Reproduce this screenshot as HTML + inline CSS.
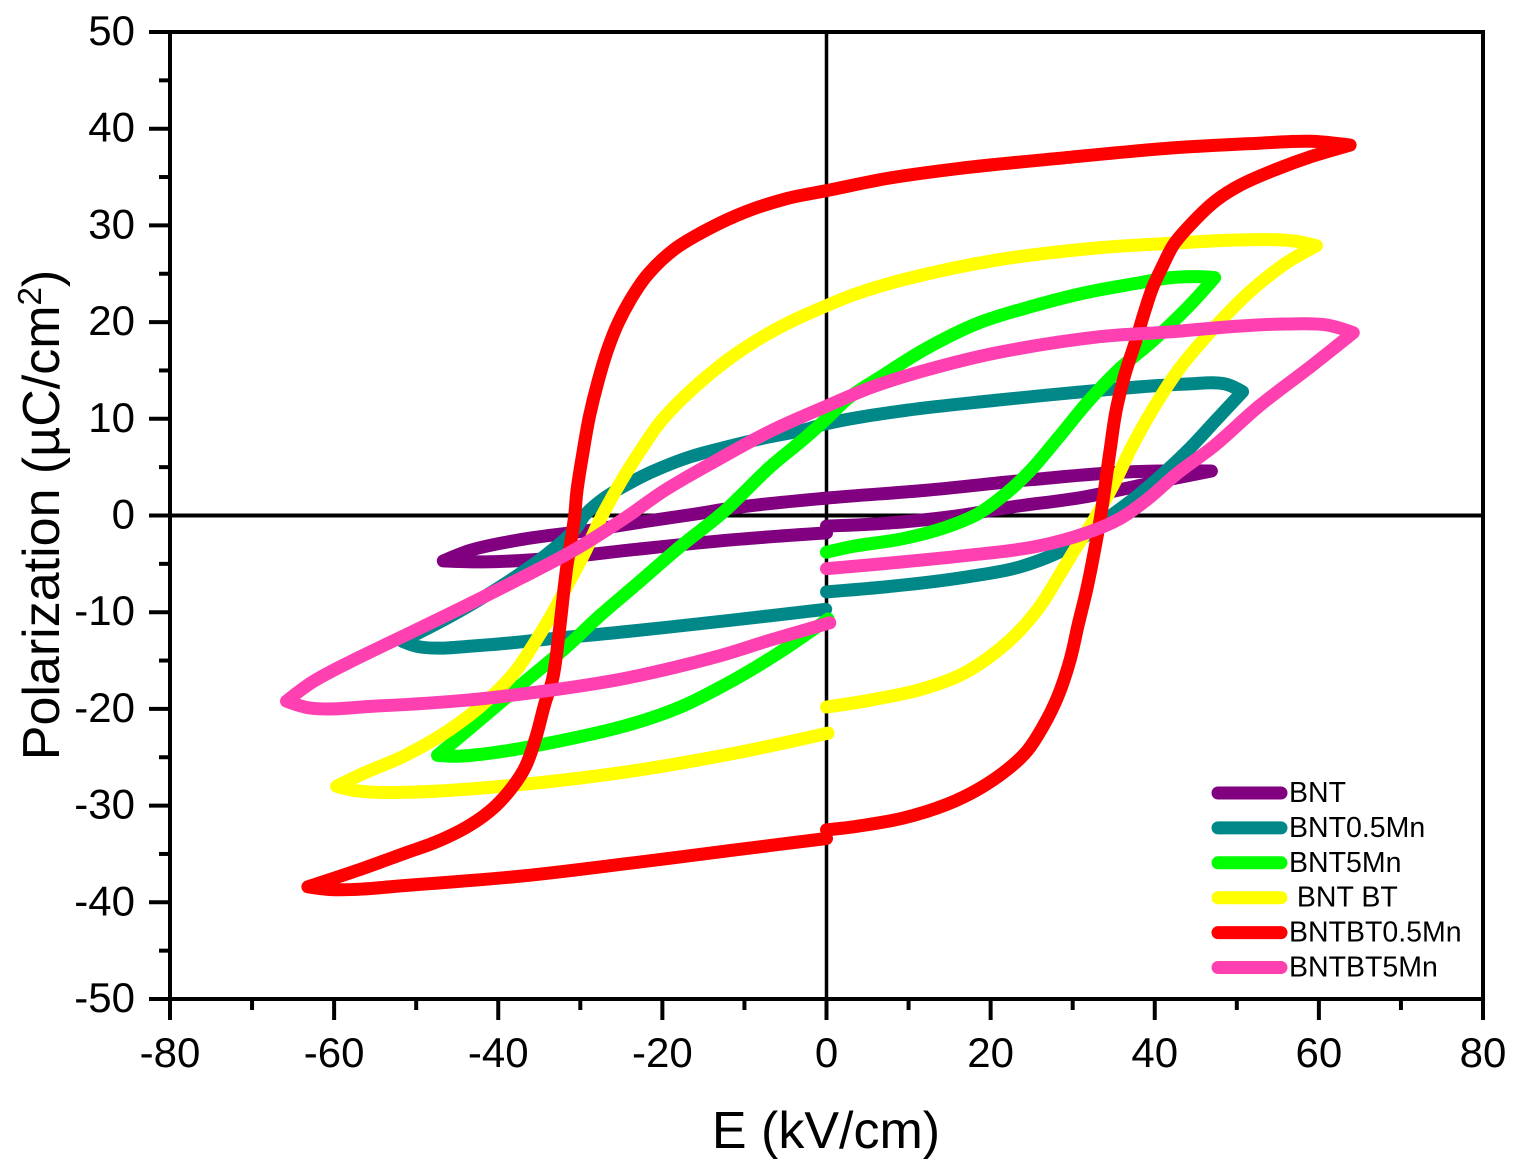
<!DOCTYPE html>
<html>
<head>
<meta charset="utf-8">
<title>Polarization hysteresis loops</title>
<style>
html,body{margin:0;padding:0;background:#fff;}
svg{display:block;}
text{font-family:"Liberation Sans",sans-serif;fill:#000;}
</style>
</head>
<body>
<svg id="chart" xmlns="http://www.w3.org/2000/svg" width="1514" height="1165" viewBox="0 0 1514 1165">
  <g id="zero-lines"></g>
  <g id="series"></g>
  <g id="axes"></g>
  <text x="826" y="1148" font-size="52" text-anchor="middle">E (kV/cm)</text>
  <text transform="translate(59,515) rotate(-90)" font-size="52" text-anchor="middle">Polarization (µC/cm<tspan font-size="33" dy="-18">2</tspan><tspan dy="18">)</tspan></text>
  <g id="legend"></g>
</svg>
<script>
const xTicks = [-80,-60,-40,-20,0,20,40,60,80];
const yTicks = [-50,-40,-30,-20,-10,0,10,20,30,40,50];
const xMinorTicks = [-70,-50,-30,-10,10,30,50,70];
const yMinorTicks = [-45,-35,-25,-15,-5,5,15,25,35,45];
const seriesNames = ["BNT","BNT0.5Mn","BNT5Mn"," BNT BT","BNTBT0.5Mn","BNTBT5Mn"];
const seriesColors = ["#800080","#008888","#00ff00","#ffff00","#ff0000","#ff40b0"];

const bntE = [0,7.3,15.4,22.7,31.3,39.8,46.9,36.4,24.9,12,0,-11.3,-15.6,-22,-28.6,-37.3,-43.4,-46.7,-41.7,-33,-24.3,-11.3,0];
const bntP = [-1.1,-0.8,-0.1,0.9,1.9,3.4,4.6,4.5,3.7,2.6,1.8,0.8,0.2,-0.6,-1.5,-2.5,-3.6,-4.7,-4.8,-4.4,-3.6,-2.5,-1.8];

const bnt05E = [0,9.3,17.5,23.6,29.7,32.3,34.7,37.7,41.1,44.1,47.5,50.7,48.6,44,39.8,31.3,20.5,9.9,0,-2.5,-7.7,-12.1,-16.5,-20.8,-23.9,-26.9,-29.5,-30.4,-33.9,-37.3,-41.7,-46,-51.7,-49.5,-41.7,-33,-24.3,-11.3,-0.1];
const bnt05P = [-7.9,-7.2,-6.3,-5.3,-3.2,-1.6,0,1.9,4.4,6.8,9.9,12.8,13.6,13.6,13.4,12.8,11.9,10.9,9.5,8.9,8,7.1,6.1,4.7,3.4,1.9,0,-1.2,-3.9,-6,-8.4,-10.5,-13,-13.6,-13.4,-12.7,-12,-10.8,-9.7];

const bnt5E = [0,3.2,9.3,14.6,18.5,21.9,24.9,28.3,31.7,35.5,39.8,44.1,47.3,45.8,42,37.7,31.3,24.9,18.5,12,6.9,2.6,0,-2.5,-6.9,-10.4,-12.5,-17.8,-23,-27.8,-31.7,-36.5,-40.8,-44.7,-47.4,-45.2,-39.5,-33,-24.3,-17.8,-11.3,-6,0.2];
const bnt5P = [-3.8,-3.2,-2.4,-1.2,0.2,2.3,4.7,8.1,11.6,15,18.1,21.6,24.6,24.7,24.6,24,23,21.6,19.9,17.2,14.5,12.1,10,8.1,5,2.1,0.4,-3.2,-7,-10.5,-13.6,-17,-20.1,-22.9,-24.8,-24.9,-24.4,-23.4,-21.7,-19.8,-17,-14.3,-10.7];

const bntBtE = [0,5.3,11.4,16.3,19.9,23.2,26,28.5,30.5,32.2,35.1,37.2,40.2,43.2,46.7,51.4,56,59.7,56.9,50.5,43.2,33.4,20.6,9.9,3.5,0,-4.7,-9.1,-13.4,-17.8,-20.4,-22.6,-24.7,-27.4,-29.5,-31.7,-33.4,-35.6,-37.8,-41.3,-46,-51.3,-56.5,-59.7,-57,-50.4,-38.2,-24.3,-11.3,0.2];
const bntBtP = [-19.8,-19.1,-18,-16.5,-14.6,-12.2,-9.4,-6,-3.2,-1,3.4,7.1,11.6,15.4,18.9,23,26.1,27.9,28.4,28.5,28.2,27.7,26.4,24.5,22.9,21.7,19.9,17.8,15.2,11.9,9.5,6.8,4,-0.1,-3.9,-7.4,-10.1,-13.2,-16,-19.1,-22.2,-24.8,-26.7,-28,-28.5,-28.6,-27.9,-26.5,-24.6,-22.5];

const bntBt05E = [0,3.2,9.3,14.6,18.7,22,24.4,26.4,28.2,29.7,30.7,31.7,32.6,33.4,34.5,35.3,36.4,37.7,38.8,39.8,40.9,42.3,44.5,47.5,50.5,54.8,59,63.8,59,52.7,42,29.1,16.3,7.7,0,-4.7,-9.9,-14.7,-18.6,-21.7,-23.4,-25.4,-26.7,-27.8,-28.9,-29.7,-30.4,-30.7,-31.7,-32.6,-33.4,-34.3,-35.4,-36.7,-38.2,-40.4,-43.4,-47.4,-51.3,-56.5,-63.2,-60,-50.4,-37.3,-24.3,-11.3,0];
const bntBt05P = [-32.5,-32.2,-31.3,-29.9,-28.2,-26.3,-24.4,-21.8,-18.7,-14.9,-11.2,-7.7,-3.9,-0.1,6.4,10.9,14.7,18.1,21.2,23.7,25.7,28,30.2,32.6,34.2,35.8,37.1,38.3,38.7,38.5,38,37,35.9,34.9,33.6,32.8,31.4,29.5,27.5,25,23,19.9,17.1,14,10.2,6.4,2.6,-0.1,-5.6,-12.2,-17,-19.4,-22.9,-26,-28,-30.1,-32,-33.7,-34.9,-36.5,-38.4,-38.7,-38.2,-37.3,-36,-34.6,-33.4];

const bntBt5E = [0,9.3,17.5,25.6,31.7,35.8,39,42.8,47.1,52.7,59,64.2,61,56,50.5,42,33.4,20.6,12,5.6,0,-6.9,-13.4,-19.9,-22.6,-24.1,-30.8,-37.3,-43.4,-50.4,-57,-62.6,-65.8,-63,-54.8,-43.9,-33,-24.3,-13.4,-6.9,0.4];
const bntBt5P = [-5.5,-4.8,-4.1,-3.2,-1.8,-0.3,1.6,4.4,7.1,11.3,15.4,18.9,19.7,19.8,19.6,19,18.5,16.8,15,13.3,11.3,8.7,5.7,2.5,0.9,0,-3.6,-6.5,-9.1,-12,-14.7,-17.2,-19.2,-19.9,-19.7,-19.1,-18,-16.8,-14.6,-12.9,-11.1];

const seriesE = [bntE,bnt05E,bnt5E,bntBtE,bntBt05E,bntBt5E];
const seriesP = [bntP,bnt05P,bnt5P,bntBtP,bntBt05P,bntBt5P];

const NS = "http://www.w3.org/2000/svg";
function xScale(v){ return 826.5 + v * (1483 - 170) / 160; }
function yScale(v){ return 515.5 - v * (999 - 32) / 100; }
function make(tag, attrs, parent){
  const el = document.createElementNS(NS, tag);
  for (const k in attrs) el.setAttribute(k, attrs[k]);
  parent.appendChild(el);
  return el;
}
function smoothPath(E, P){
  const pts = E.map((v,i)=>[xScale(v), yScale(P[i])]);
  const n = pts.length;
  const tan = pts.map((p,i)=>{
    if (i === 0 || i === n-1) return [0,0];
    const a = [p[0]-pts[i-1][0], p[1]-pts[i-1][1]];
    const b = [pts[i+1][0]-p[0], pts[i+1][1]-p[1]];
    const la = Math.hypot(a[0],a[1]) || 1, lb = Math.hypot(b[0],b[1]) || 1;
    const dot = (a[0]*b[0]+a[1]*b[1])/(la*lb);
    if (dot < 0.2) return [0,0];
    const ux = a[0]/la + b[0]/lb, uy = a[1]/la + b[1]/lb;
    const lu = Math.hypot(ux,uy) || 1;
    return [ux/lu, uy/lu];
  });
  let d = "M" + pts[0][0].toFixed(1) + " " + pts[0][1].toFixed(1);
  for (let i = 0; i < n-1; i++){
    const p1 = pts[i], p2 = pts[i+1];
    const len = Math.hypot(p2[0]-p1[0], p2[1]-p1[1]) / 3;
    const c1x = p1[0] + tan[i][0]*len, c1y = p1[1] + tan[i][1]*len;
    const c2x = p2[0] - tan[i+1][0]*len, c2y = p2[1] - tan[i+1][1]*len;
    d += "C" + c1x.toFixed(1) + " " + c1y.toFixed(1) + " " + c2x.toFixed(1) + " " + c2y.toFixed(1) + " " + p2[0].toFixed(1) + " " + p2[1].toFixed(1);
  }
  return d;
}

const zeroG = document.getElementById("zero-lines");
const zx = make("line", {x1:xScale(0), x2:xScale(0), y1:yScale(50), y2:yScale(-50), stroke:"#000", "stroke-width":3.5}, zeroG);


const zy = make("line", {x1:xScale(-80), x2:xScale(80), y1:yScale(0), y2:yScale(0), stroke:"#000", "stroke-width":4}, zeroG);



const seriesG = document.getElementById("series");
seriesNames.forEach((name, i) => {
  const p = make("path", {d:smoothPath(seriesE[i], seriesP[i]), fill:"none", stroke:seriesColors[i], "stroke-width":13, "stroke-linecap":"round", "stroke-linejoin":"round"}, seriesG);
  
  
});

const axesG = document.getElementById("axes");
const frame = make("rect", {x:xScale(-80), y:yScale(50), width:xScale(80)-xScale(-80), height:yScale(-50)-yScale(50), fill:"none", stroke:"#000", "stroke-width":4}, axesG);



xTicks.forEach(v => {
  const t = make("line", {x1:xScale(v), x2:xScale(v), y1:999, y2:1020, stroke:"#000", "stroke-width":4}, axesG);
  
  
  const l = make("text", {x:xScale(v), y:1067, "font-size":42, "text-anchor":"middle"}, axesG);
  l.textContent = v;
  
  
});
xMinorTicks.forEach(v => {
  const t = make("line", {x1:xScale(v), x2:xScale(v), y1:999, y2:1010, stroke:"#000", "stroke-width":4}, axesG);
  
  
});
yTicks.forEach(v => {
  const t = make("line", {x1:149, x2:170, y1:yScale(v), y2:yScale(v), stroke:"#000", "stroke-width":4}, axesG);
  
  
  const l = make("text", {x:135, y:yScale(v)+13, "font-size":42, "text-anchor":"end"}, axesG);
  l.textContent = v;
  
  
});
yMinorTicks.forEach(v => {
  const t = make("line", {x1:159, x2:170, y1:yScale(v), y2:yScale(v), stroke:"#000", "stroke-width":4}, axesG);
  
  
});

const legendG = document.getElementById("legend");
seriesNames.forEach((name, i) => {
  const y = 793 + i * 34.9;
  const sw = make("line", {x1:1218, x2:1281, y1:y, y2:y, stroke:seriesColors[i], "stroke-width":13, "stroke-linecap":"round"}, legendG);
  
  
  const tx = make("text", {x:1289, y:y+9, "font-size":28.5, style:"white-space:pre"}, legendG);
  tx.textContent = name;
  
  
});
</script>
</body>
</html>
